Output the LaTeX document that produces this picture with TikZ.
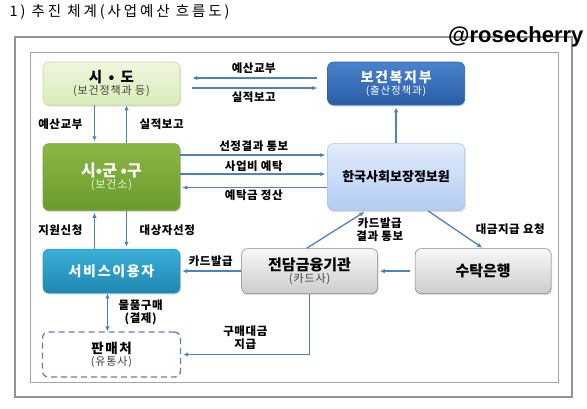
\documentclass[tikz,border=0pt]{standalone}
\usepackage{fontspec}
\setmainfont{Noto Sans CJK KR}
\newfontfamily\widefont[LetterSpace=12]{Noto Sans CJK KR}
\newfontfamily\subfont[LetterSpace=8]{Noto Sans CJK KR}
\newfontfamily\lblfont[LetterSpace=5]{Noto Sans CJK KR}
\newfontfamily\titlefont[LetterSpace=20]{Noto Sans CJK KR}
\newfontfamily\markfont{Liberation Sans}
\usetikzlibrary{arrows.meta}
\usetikzlibrary{positioning}
\usetikzlibrary{shadows}
\definecolor{flow}{HTML}{4F81BD}
\definecolor{frameout}{HTML}{939393}
\definecolor{framein}{HTML}{A6A6A6}
\definecolor{subgray}{HTML}{404040}
\definecolor{sidotop}{HTML}{EEF6DE}
\definecolor{sidobot}{HTML}{D9EDB8}
\definecolor{sidoline}{HTML}{C3DB9C}
\definecolor{guntop}{HTML}{8DB646}
\definecolor{gunbot}{HTML}{6C9A2E}
\definecolor{gunline}{HTML}{7AA63A}
\definecolor{mintop}{HTML}{4A82CC}
\definecolor{minbot}{HTML}{2A5DA6}
\definecolor{minline}{HTML}{2F63AA}
\definecolor{infotop}{HTML}{E2ECFC}
\definecolor{infobot}{HTML}{B2CCF2}
\definecolor{infoline}{HTML}{A9C2EA}
\definecolor{usertop}{HTML}{3BAFD8}
\definecolor{userbot}{HTML}{1F86B2}
\definecolor{userline}{HTML}{2A93BE}
\definecolor{graytop}{HTML}{F7F7F7}
\definecolor{graybot}{HTML}{CDCDCD}
\definecolor{grayline}{HTML}{888888}
\definecolor{shopline}{HTML}{5B82B0}

\begin{document}
\begin{tikzpicture}[
		x=1pt, y=-1pt,
		line width=0.2mm,
		node distance=38pt,
		arrow/.style={flow, line width=1.3pt, -{Latex[length=5pt,width=4.5pt]}},
		lbl/.style={text=black, font=\lblfont\bfseries\fontsize{11.5}{12.5}\selectfont, align=center, inner sep=1.5pt},
		box/.style={rounded corners=6pt, minimum width=137pt, align=center, inner sep=2pt,
			drop shadow={opacity=0.25, shadow xshift=1pt, shadow yshift=-1.5pt}},
		sidobox/.style={box, minimum height=43pt, top color=sidotop, bottom color=sidobot, draw=sidoline},
		gunbox/.style={box, minimum height=67pt, top color=guntop, bottom color=gunbot, draw=gunline, text=white},
		minbox/.style={box, minimum height=43pt, top color=mintop, bottom color=minbot, draw=minline, text=white},
		infobox/.style={box, minimum height=67pt, top color=infotop, bottom color=infobot, draw=infoline},
		userbox/.style={box, minimum height=44pt, top color=usertop, bottom color=userbot, draw=userline, text=white},
		graybox/.style={box, minimum width=136pt, minimum height=45pt, top color=graytop, bottom color=graybot, draw=grayline},
		shopbox/.style={rounded corners=6pt, minimum width=138pt, minimum height=45pt, align=center, inner sep=2pt,
			draw=shopline, fill=white, line width=1.3pt, dash pattern=on 6pt off 4pt},
	]
	\useasboundingbox (0,0) rectangle (587,408);

	\node (title) [anchor=west, font=\titlefont\fontsize{14.5}{16}\selectfont] at (6,12) {1) 추진 체계(사업예산 흐름도)};

	\draw[frameout, line width=2.5pt] (15,37) rectangle (572,397);
	\draw[framein, line width=0.7pt] (30,52) rectangle (558,382);

	\node (mark) [anchor=east, font=\markfont\bfseries\fontsize{22}{24}\selectfont] at (587,37) {@rosecherry};

	\node (sido) [sidobox] at (111.5,83.5) {{\bfseries\fontsize{14.5}{15}\selectfont 시\hspace{3pt} • \hspace{3pt}도}\\{\color{subgray}\subfont\fontsize{11}{12}\selectfont (보건정책과 등)}};
	\node (bokji) [minbox, right=147pt of sido] {{\widefont\bfseries\fontsize{14}{15}\selectfont 보건복지부}\\{\subfont\fontsize{10.5}{11}\selectfont (출산정책과)}};
	\node (sigungu) [gunbox, below=of sido] {{\bfseries\fontsize{16}{16}\selectfont 시•군 •구}\\{\color{white!88!green}\subfont\fontsize{11}{12}\selectfont (보건소)}};
	\node (info) [infobox, below=of bokji] {\bfseries\fontsize{13}{14}\selectfont 한국사회보장정보원};
	\node (user) [userbox, below=of sigungu] {\widefont\bfseries\fontsize{14}{15}\selectfont 서비스이용자};
	\node (card) [graybox, right=61pt of user] {{\bfseries\fontsize{15}{16}\selectfont 전담금융기관}\\{\color{subgray}\subfont\fontsize{11}{12}\selectfont (카드사)}};
	\node (bank) [graybox, right=37pt of card] {\bfseries\fontsize{15}{16}\selectfont 수탁은행};
	\node (shop) [shopbox, below=38pt of user] {{\widefont\bfseries\fontsize{13.5}{15}\selectfont 판매처}\\{\color{subgray}\subfont\fontsize{11}{12}\selectfont (유통사)}};

	\draw[arrow, shorten <=10pt, shorten >=12pt] ([yshift=5.5pt]bokji.west) -- node[lbl, above=2pt] {예산교부} ([yshift=5.5pt]sido.east);
	\draw[arrow, shorten <=12pt, shorten >=10pt] ([yshift=-4.5pt]sido.east) -- node[lbl, below=2pt] {실적보고} ([yshift=-4.5pt]bokji.west);

	\draw[arrow, shorten >=2pt] ([xshift=-17pt]sido.south) -- node[lbl, left=10pt] {예산교부} ([xshift=-17pt]sigungu.north);
	\draw[arrow] ([xshift=15pt]sigungu.north) -- node[lbl, right=11pt] {실적보고} ([xshift=15pt]sido.south);

	\draw[arrow, shorten >=2pt] ([yshift=22pt]sigungu.east) -- node[lbl, above=1pt] {선정결과 통보} ([yshift=22pt]info.west);
	\draw[arrow, shorten >=2pt] ([yshift=3pt]sigungu.east) -- node[lbl, above=0pt] {사업비 예탁} ([yshift=3pt]info.west);
	\draw[arrow, shorten >=2pt] ([yshift=-10.5pt]info.west) -- node[lbl, below=0pt] {예탁금 정산} ([yshift=-10.5pt]sigungu.east);

	\draw[arrow, shorten >=2pt] (info.north) -- (bokji.south);

	\draw[arrow, shorten >=2pt] ([xshift=-3pt]card.north) -- node[lbl, right=18pt] {카드발급\\결과 통보} ([xshift=-30pt]info.south);
	\draw[arrow, shorten >=1pt] ([xshift=32pt]info.south) -- node[lbl, right=18pt] {대금지급 요청} (bank.north);

	\draw[arrow, shorten <=5pt, shorten >=2pt] (bank.west) -- (card.east);
	\draw[arrow, shorten >=2pt] (card.west) -- node[lbl, above=2pt] {카드발급} (user.east);

	\draw[arrow, shorten >=2pt] ([xshift=-17pt]user.north) -- node[lbl, left=10pt] {지원신청} ([xshift=-17pt]sigungu.south);
	\draw[arrow, shorten >=2pt] ([xshift=15pt]sigungu.south) -- node[lbl, right=11pt] {대상자선정} ([xshift=15pt]user.north);

	\draw[arrow, {Latex[length=5pt,width=4.5pt]}-{Latex[length=5pt,width=4.5pt]}] ([xshift=-4pt]user.south) -- node[lbl, right=9pt] {물품구매\\(결제)} ([xshift=-4pt]shop.north);

	\draw[arrow, shorten >=2pt] (card.south) |- node[lbl, pos=0.75, above=3pt] {구매대금\\지급} (shop.east);
\end{tikzpicture}
\end{document}
